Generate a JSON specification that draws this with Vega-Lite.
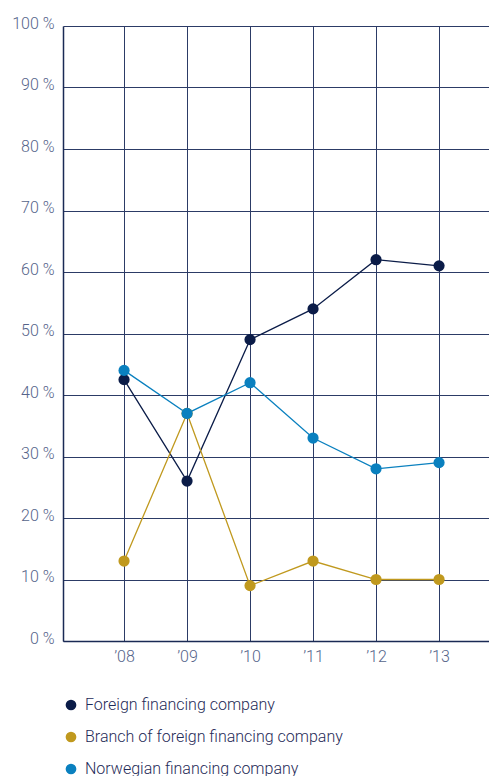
{
  "$schema": "https://vega.github.io/schema/vega-lite/v6.json",
  "autosize": "none",
  "width": 426,
  "height": 615,
  "padding": {"left": 63, "top": 26, "right": 0, "bottom": 135},
  "background": "white",
  "config": {
    "view": {"stroke": null},
    "font": "Roboto"
  },
  "data": {
    "values": [
      {"year": "’08", "series": "Foreign financing company", "value": 42.5},
      {"year": "’09", "series": "Foreign financing company", "value": 26},
      {"year": "’10", "series": "Foreign financing company", "value": 49},
      {"year": "’11", "series": "Foreign financing company", "value": 54},
      {"year": "’12", "series": "Foreign financing company", "value": 62},
      {"year": "’13", "series": "Foreign financing company", "value": 61},
      {"year": "’08", "series": "Branch of foreign financing company", "value": 13},
      {"year": "’09", "series": "Branch of foreign financing company", "value": 37},
      {"year": "’10", "series": "Branch of foreign financing company", "value": 9},
      {"year": "’11", "series": "Branch of foreign financing company", "value": 13},
      {"year": "’12", "series": "Branch of foreign financing company", "value": 10},
      {"year": "’13", "series": "Branch of foreign financing company", "value": 10},
      {"year": "’08", "series": "Norwegian financing company", "value": 44},
      {"year": "’09", "series": "Norwegian financing company", "value": 37},
      {"year": "’10", "series": "Norwegian financing company", "value": 42},
      {"year": "’11", "series": "Norwegian financing company", "value": 33},
      {"year": "’12", "series": "Norwegian financing company", "value": 28},
      {"year": "’13", "series": "Norwegian financing company", "value": 29}
    ]
  },
  "encoding": {
    "x": {
      "field": "year",
      "type": "ordinal",
      "sort": null,
      "scale": {"type": "point", "padding": 0.881, "align": 0.55},
      "axis": {
        "title": null,
        "grid": true,
        "gridColor": "#2c3b66",
        "gridWidth": 1,
        "domainColor": "#1a2a55",
        "domainWidth": 1.5,
        "ticks": false,
        "labelAngle": 0,
        "labelFontSize": 16,
        "labelFontWeight": 300,
        "labelColor": "#56648a",
        "labelPadding": 7
      }
    },
    "y": {
      "field": "value",
      "type": "quantitative",
      "scale": {"domain": [0, 100], "nice": false},
      "axis": {
        "title": null,
        "values": [0, 10, 20, 30, 40, 50, 60, 70, 80, 90, 100],
        "labelExpr": "datum.value + ' %'",
        "grid": true,
        "gridColor": "#2c3b66",
        "gridWidth": 1,
        "domainColor": "#1a2a55",
        "domainWidth": 1.5,
        "ticks": false,
        "labelFontSize": 16,
        "labelFontWeight": 300,
        "labelColor": "#56648a",
        "labelPadding": 9,
        "labelOffset": -3
      }
    }
  },
  "resolve": {"legend": {"color": "independent"}},
  "layer": [
    {
      "mark": {"type": "line", "strokeWidth": 1.3},
      "encoding": {
        "color": {
          "field": "series",
          "type": "nominal",
          "sort": null,
          "scale": {
            "domain": ["Foreign financing company", "Branch of foreign financing company", "Norwegian financing company"],
            "range": ["#0b1c48", "#c0991e", "#0a80bf"]
          },
          "legend": null
        }
      }
    },
    {
      "mark": {"type": "point", "filled": true, "opacity": 1, "size": 125, "shape": "circle"},
      "encoding": {
        "color": {
          "field": "series",
          "type": "nominal",
          "sort": null,
          "scale": {
            "domain": ["Foreign financing company", "Branch of foreign financing company", "Norwegian financing company"],
            "range": ["#0b1c48", "#c0991e", "#0a80bf"]
          },
          "legend": {
            "title": null,
            "orient": "none",
            "legendX": 0,
            "legendY": 671,
            "padding": 0,
            "direction": "vertical",
            "symbolType": "circle",
            "symbolSize": 115,
            "symbolOpacity": 1,
            "labelFontSize": 16,
            "labelFontWeight": 300,
            "labelColor": "#1f2b58",
            "labelOffset": 6,
            "rowPadding": 16,
            "labelLimit": 400
          }
        }
      }
    }
  ]
}
